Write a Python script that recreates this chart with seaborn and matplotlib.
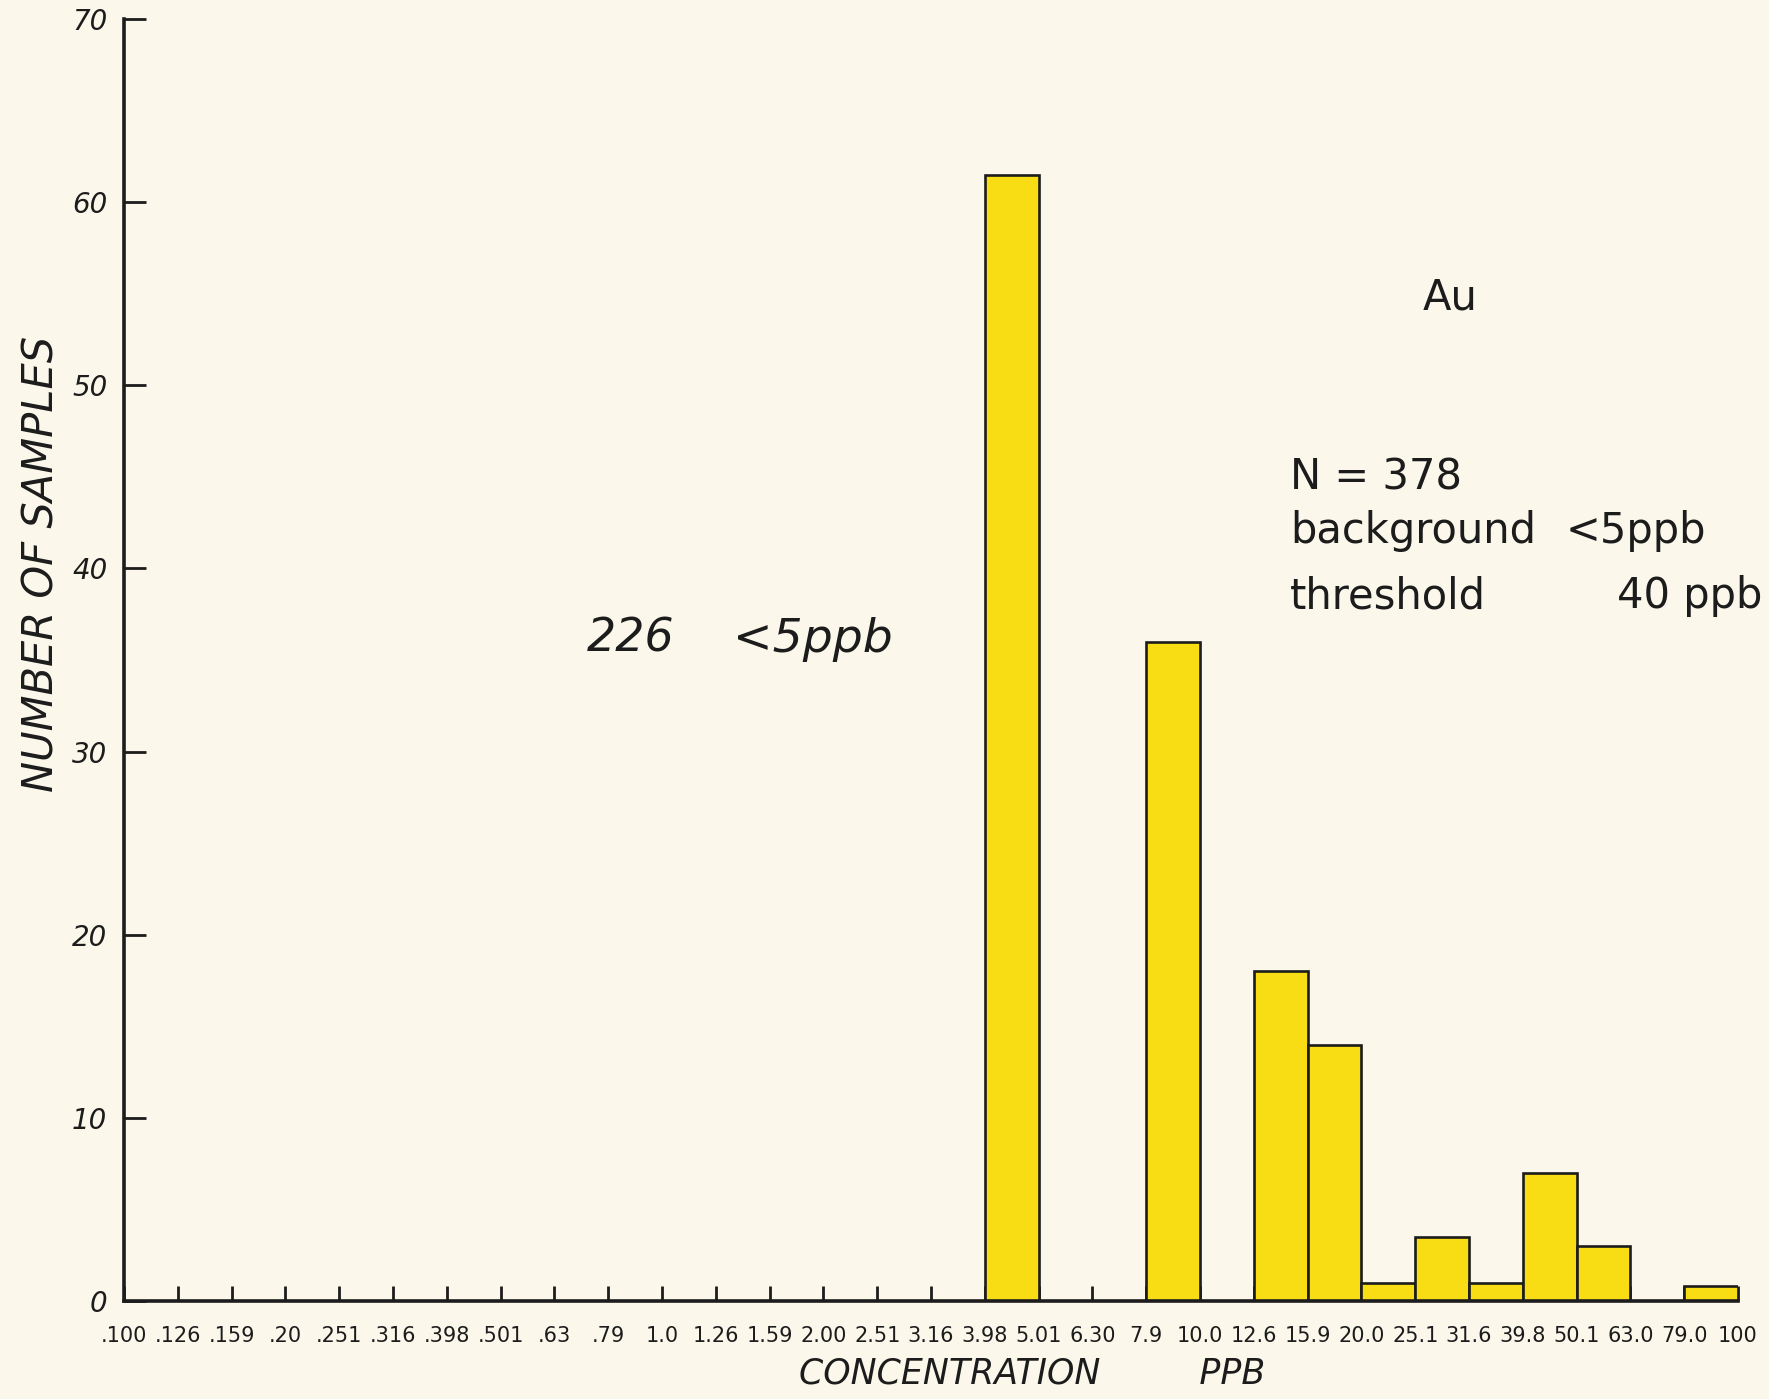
import numpy as np
import pandas as pd
import matplotlib
matplotlib.use("Agg")
import matplotlib.pyplot as plt
import seaborn as sns

# Class boundaries (ppb), equal steps of 0.1 in log10 concentration
class_labels = [".100", ".126", ".159", ".20", ".251", ".316", ".398", ".501", ".63", ".79",
                "1.0", "1.26", "1.59", "2.00", "2.51", "3.16", "3.98", "5.01", "6.30", "7.9",
                "10.0", "12.6", "15.9", "20.0", "25.1", "31.6", "39.8", "50.1", "63.0", "79.0", "100"]

# Number of samples in each class interval (between consecutive boundaries)
sample_counts = [0, 0, 0, 0, 0, 0, 0, 0, 0, 0,
                 0, 0, 0, 0, 0, 0, 61.5, 0, 0, 36,
                 0, 18, 14, 1, 3.5, 1, 7, 3, 0, 0.8]

y_ticks = [0, 10, 20, 30, 40, 50, 60, 70]
y_tick_labels = ["0", "10", "20", "30", "40", "50", "60", "70"]

PAPER = "#FBF8EB"
INK = "#1C1C1C"
YELLOW = "#F8DD14"

sns.set_theme(style="ticks")
plt.rcParams["font.family"] = ["DejaVu Sans"]

# one row per class interval, placed at the middle of its slot on the class axis
n_classes = len(sample_counts)
df = pd.DataFrame({
    "class_mid": np.arange(n_classes) + 0.5,
    "samples": sample_counts,
})

W, H = 1769, 1399
fig = plt.figure(figsize=(W / 100, H / 100), dpi=100)
fig.patch.set_facecolor(PAPER)

x0, x1 = 124, 1738        # axis extent in pixels
y_top, y_base = 19, 1301
ax = fig.add_axes([x0 / W, (H - y_base) / H, (x1 - x0) / W, (y_base - y_top) / H])
ax.set_facecolor(PAPER)

sns.histplot(data=df, x="class_mid", weights="samples",
             bins=n_classes, binrange=(0, n_classes), stat="count",
             color=YELLOW, edgecolor=INK, linewidth=1.9, alpha=1.0, ax=ax)

ax.set_xlim(0, n_classes)
ax.set_ylim(0, 70)

ax.set_xticks(np.arange(len(class_labels)))
ax.set_xticklabels(class_labels)
ax.set_yticks(y_ticks)
ax.set_yticklabels(y_tick_labels)
for lbl in ax.get_yticklabels():
    lbl.set_fontstyle("italic")

sns.despine(ax=ax)
for side in ("left", "bottom"):
    ax.spines[side].set_linewidth(2.6)
    ax.spines[side].set_color(INK)

ax.tick_params(axis="y", direction="in", length=16, width=2.0, pad=12,
               labelsize=20, colors=INK)
ax.tick_params(axis="x", direction="in", length=11, width=2.0, pad=18,
               labelsize=15, colors=INK)

ax.set_xlabel("CONCENTRATION         PPB", fontsize=25, fontstyle="italic",
              color=INK, va="center")
ax.xaxis.set_label_coords((1032 - x0) / (x1 - x0), (y_base - 1374) / (y_base - y_top))
ax.set_ylabel("NUMBER OF SAMPLES", fontsize=30, fontstyle="italic",
              color=INK, va="center")
ax.yaxis.set_label_coords((42 - x0) / (x1 - x0), (y_base - 564) / (y_base - y_top))


def fig_text(px, py, s, **kw):
    fig.text(px / W, 1 - py / H, s, color=INK, **kw)


# note on the samples below detection
fig_text(587, 652, "226", fontsize=33, fontstyle="italic", va="baseline")
fig_text(733, 652, "<5ppb", fontsize=34, fontstyle="italic", va="baseline")

# element and summary block
fig_text(1423, 310, "Au", fontsize=30, va="baseline")
fig_text(1290, 489, "N = 378", fontsize=30, va="baseline")
fig_text(1290, 543, "background", fontsize=30, va="baseline")
fig_text(1566, 543, "<5ppb", fontsize=30, va="baseline")
fig_text(1290, 608, "threshold", fontsize=30, va="baseline")
fig_text(1762, 608, "40 ppb", fontsize=30, va="baseline", ha="right")

fig.savefig("out.png", dpi=100, facecolor=fig.get_facecolor())
